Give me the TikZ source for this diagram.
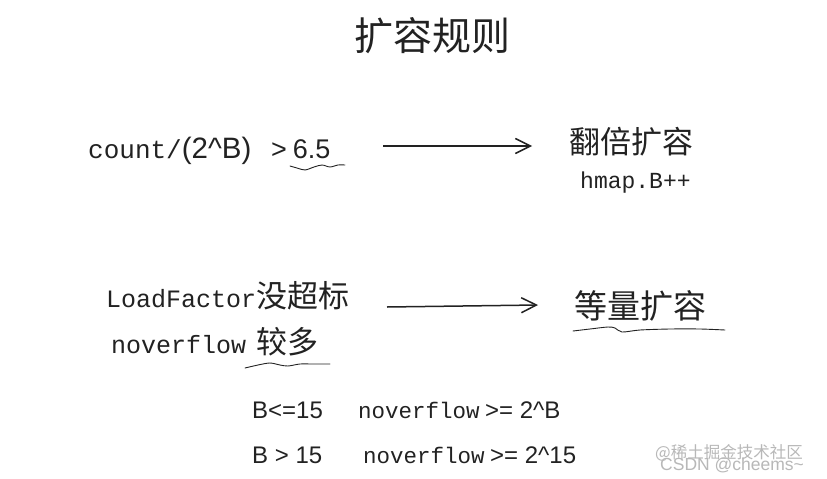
\documentclass[tikz,border=0pt]{standalone}
\usepackage{fontspec}
\setmainfont{Liberation Sans}
\newfontfamily\cjk{Noto Sans CJK SC}
\newfontfamily\mono{Liberation Mono}
\newfontfamily\sans{Liberation Sans}
\usetikzlibrary{arrows.meta}
\definecolor{ink}{HTML}{222222}
\definecolor{wm}{HTML}{B8B8B8}
\begin{document}
\begin{tikzpicture}[x=1pt,y=-1pt,
  txt/.style={inner sep=0pt,anchor=base west,text=ink},
  arr/.style={draw=ink,line width=1.5pt,-{Straight Barb[length=15pt,width=15pt,line width=1.5pt]}},
  squig/.style={draw=ink,line width=0.9pt,line cap=round}]
\useasboundingbox[fill=white] (0,0) rectangle (827,479);
% title
\node[txt,font=\cjk\fontsize{39}{39}\selectfont] (title) at (354,50) {扩容规则};
% row 1
\node[txt,font=\mono\fontsize{26}{26}\selectfont] (cnt) at (88,158) {count/\sans\fontsize{29.5}{29.5}\selectfont(2\^{}B)};
\node[txt,font=\sans\fontsize{27}{27}\selectfont] (gt) at (271,158) {>\hspace{6pt}6.5};
\node[txt,font=\cjk\fontsize{31}{31}\selectfont] (dbl) at (569,153) {翻倍扩容};
\node[txt,font=\mono\fontsize{23}{23}\selectfont] (hmap) at (580,188) {hmap.B++};
\coordinate (a1s) at (383,146);
\coordinate (a1e) at (532,146);
\draw[arr] (a1s) -- (a1e);
\draw[squig] plot[smooth] coordinates {(290,166) (297,168) (305,170) (314,167) (322,165) (330,167) (338,165) (345,165)};
% row 2
\node[txt,font=\mono\fontsize{25}{25}\selectfont] (lf) at (106,307) {LoadFactor\cjk\fontsize{31}{31}\selectfont 没超标};
\node[txt,font=\mono\fontsize{25}{25}\selectfont] (nof) at (111,353) {noverflow\hspace{10pt}\cjk\fontsize{31}{31}\selectfont 较多};
\draw[squig] plot[smooth] coordinates {(245,368) (258,365) (270,363) (280,365) (288,366) (300,364) (312,364) (330,364)};
\coordinate (a2s) at (387,307);
\coordinate (a2e) at (538,305);
\draw[arr] (a2s) -- (a2e);
\node[txt,font=\cjk\fontsize{33}{33}\selectfont] (eq) at (574,318) {等量扩容};
\draw[squig] plot[smooth] coordinates {(573,331) (590,329) (608,327) (615,328) (622,332) (640,330) (670,329) (700,329) (725,330)};
% conditions
\node[txt,font=\sans\fontsize{24}{24}\selectfont] (c1) at (252,418) {B<=15};
\node[txt,font=\mono\fontsize{22.5}{22.5}\selectfont] (n1) at (358,418) {noverflow};
\node[txt,font=\sans\fontsize{24}{24}\selectfont] (g1) at (485,418) {>= 2\^{}B};
\node[txt,font=\sans\fontsize{24}{24}\selectfont] (c2) at (252,463) {B > 15};
\node[txt,font=\mono\fontsize{22.5}{22.5}\selectfont] (n2) at (363,463) {noverflow};
\node[txt,font=\sans\fontsize{24}{24}\selectfont] (g2) at (490,463) {>= 2\^{}15};
% watermark
\node[txt,text=wm,font=\cjk\fontsize{16.5}{16.5}\selectfont] (w1) at (655,458) {@稀土掘金技术社区};
\node[txt,text=wm,font=\sans\fontsize{17.5}{17.5}\selectfont] (w2) at (660,470) {CSDN @cheems\textasciitilde};
\end{tikzpicture}
\end{document}
